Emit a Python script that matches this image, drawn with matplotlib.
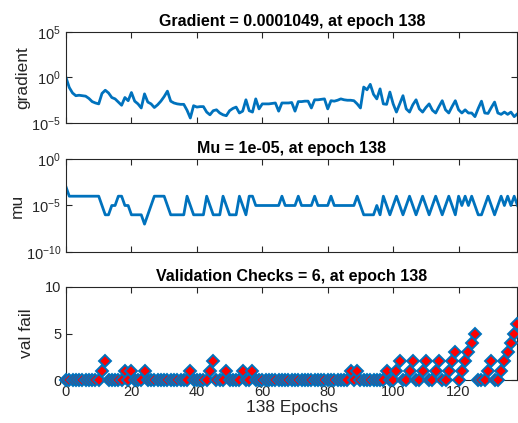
import numpy as np
import matplotlib
matplotlib.use("Agg")
import matplotlib.pyplot as plt
from matplotlib.ticker import NullLocator

plt.rcParams['font.family'] = ['Liberation Sans', 'DejaVu Sans']

# epochs 0..138
epochs = list(range(139))

# gradient, log10 values
grad_log = [0.0, -1.1, -1.7, -2.0, -1.95, -2.0, -2.05, -2.3, -2.65, -2.8,
            -2.9, -1.75, -1.4, -1.7, -2.2, -2.35, -2.7, -3.05, -2.2, -2.55,
            -1.65, -2.6, -2.9, -3.35, -1.8, -2.7, -2.9, -3.3, -3.0, -2.6,
            -2.1, -1.5, -2.6, -2.8, -2.9, -2.95, -2.95, -3.6, -4.45, -3.1,
            -3.25, -3.2, -3.2, -3.8, -4.1, -3.65, -3.55, -3.9, -4.1, -4.2,
            -3.65, -3.4, -3.25, -3.9, -3.7, -2.45, -3.65, -3.8, -2.35, -3.45,
            -2.9, -2.9, -2.9, -2.85, -2.8, -3.7, -2.8, -2.8, -2.8, -2.75,
            -3.7, -2.65, -2.65, -2.6, -2.6, -3.35, -2.45, -2.45, -2.4, -2.35,
            -3.45, -2.55, -2.6, -2.5, -2.35, -2.45, -2.5, -2.5, -2.55, -2.9,
            -3.35, -1.05, -1.35, -0.75, -1.85, -2.35, -1.25, -2.9, -2.95, -1.6,
            -2.9, -3.8, -2.9, -2.0, -3.45, -3.8, -3.0, -2.45, -3.45, -3.8,
            -3.3, -2.9, -3.6, -3.9, -3.2, -2.55, -3.55, -3.9, -3.2, -2.55,
            -3.55, -3.9, -3.55, -3.9, -3.9, -4.3, -3.4, -2.6, -3.9, -3.95,
            -3.3, -2.7, -3.9, -4.05, -3.8, -4.05, -3.8, -4.3, -3.98]

# mu, log10 values
mu_log = [-3, -4, -4, -4, -4, -4, -4, -4, -4, -4,
          -4, -5, -6, -6, -5, -5, -4, -4, -5, -5,
          -6, -6, -6, -6, -7, -6, -5, -4, -4, -4,
          -4, -5, -6, -6, -6, -6, -6, -4, -5, -6,
          -6, -6, -6, -4, -5, -6, -6, -6, -4, -5,
          -6, -6, -6, -4, -5, -6, -4, -4, -5, -5,
          -5, -5, -5, -5, -5, -5, -4, -5, -5, -5,
          -5, -4, -5, -5, -5, -5, -4, -5, -5, -5,
          -5, -4, -5, -5, -5, -5, -5, -5, -5, -4,
          -5, -6, -6, -6, -6, -5, -6, -4, -5, -6,
          -5, -4, -5, -6, -5, -4, -5, -6, -5, -4,
          -5, -6, -5, -4, -5, -6, -5, -4, -5, -6,
          -4, -5, -4, -5, -4, -5, -6, -6, -5, -4,
          -5, -6, -5, -4, -5, -4, -5, -4, -5]

# validation fails (non-zero epochs only)
val_nonzero = {11: 1, 12: 2, 18: 1, 20: 1, 24: 1, 38: 1, 44: 1, 45: 2,
               49: 1, 54: 1, 57: 1, 87: 1, 89: 1, 98: 1, 101: 1, 102: 2,
               105: 1, 106: 2, 109: 1, 110: 2, 113: 1, 114: 2, 117: 1,
               118: 2, 119: 3, 121: 1, 122: 2, 123: 3, 124: 4, 125: 5,
               129: 1, 130: 2, 133: 1, 134: 2, 135: 3, 136: 4, 137: 5, 138: 6}
val_fail = [val_nonzero.get(e, 0) for e in epochs]

gradient = 10.0 ** np.array(grad_log)
mu = 10.0 ** np.array(mu_log)

blue = (0.0, 0.447, 0.741)
tick_col = (0.15, 0.15, 0.15)
lab_size = 12.5
title_size = 11.5

W, H = 518, 423
fig = plt.figure(figsize=(W / 100, H / 100), dpi=100)

left = 66 / W
width = 0.999 - left


def make_ax(top_px, bot_px):
    ax = fig.add_axes([left, 1 - bot_px / H, width, (bot_px - top_px) / H])
    ax.set_xlim(0, 138)
    ax.set_xticks(range(0, 121, 20))
    ax.tick_params(direction='in', top=True, right=True, length=4,
                   width=0.8, colors=tick_col, labelsize=10.5)
    for s in ax.spines.values():
        s.set_color(tick_col)
        s.set_linewidth(0.8)
    return ax


ax1 = make_ax(32, 123)
ax1.semilogy(epochs, gradient, color=blue, lw=2.0)
ax1.set_ylim(1e-5, 1e5)
ax1.set_yticks([1e-5, 1e0, 1e5])
ax1.yaxis.set_minor_locator(NullLocator())
ax1.set_xticklabels([])
ax1.set_ylabel('gradient', fontsize=lab_size, color=tick_col, labelpad=1)
ax1.set_title('Gradient = 0.0001049, at epoch 138', fontsize=title_size,
              fontweight='bold', pad=4)

ax2 = make_ax(159, 252)
ax2.semilogy(epochs, mu, color=blue, lw=2.0)
ax2.set_ylim(1e-10, 1e0)
ax2.set_yticks([1e-10, 1e-5, 1e0])
ax2.yaxis.set_minor_locator(NullLocator())
ax2.set_xticklabels([])
ax2.set_ylabel('mu', fontsize=lab_size, color=tick_col, labelpad=1)
ax2.set_title('Mu = 1e-05, at epoch 138', fontsize=title_size,
              fontweight='bold', pad=4)

ax3 = make_ax(287, 380)
ax3.plot(epochs, val_fail, linestyle='none', marker='D', markersize=5.8,
         markerfacecolor='red', markeredgecolor=blue, markeredgewidth=1.4,
         clip_on=False, zorder=3)
ax3.set_ylim(0, 10)
ax3.set_yticks([0, 5, 10])
ax3.set_ylabel('val fail', fontsize=lab_size, color=tick_col, labelpad=8)
ax3.set_xlabel('138 Epochs', fontsize=lab_size, color=tick_col, labelpad=1)
ax3.set_title('Validation Checks = 6, at epoch 138', fontsize=title_size,
              fontweight='bold', pad=4)

fig.savefig('out.png', dpi=100)
